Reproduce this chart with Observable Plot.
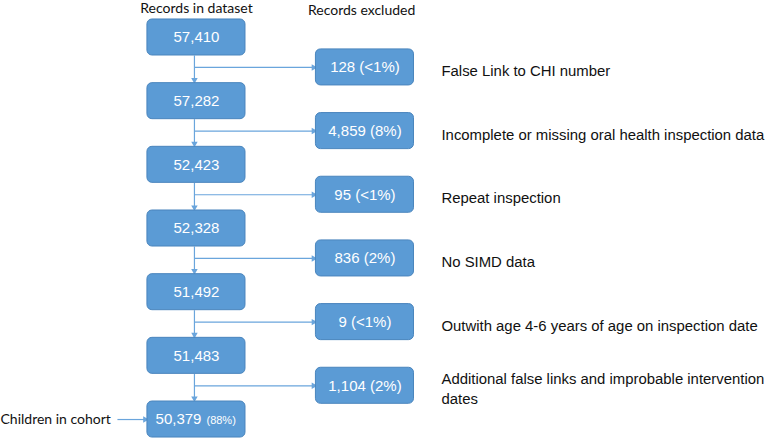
<!DOCTYPE html>
<html>
<head>
<meta charset="utf-8">
<script src="https://cdn.jsdelivr.net/npm/d3@7"></script>
<script src="https://cdn.jsdelivr.net/npm/@observablehq/plot@0.6"></script>
<style>
  html, body { margin: 0; padding: 0; background: #fff; }
  #chart svg { display: block; }
</style>
</head>
<body>
<div id="chart"></div>
<script>
// ---- data ----
const remaining = [57410, 57282, 52423, 52328, 51492, 51483, 50379];
const excluded = [128, 4859, 95, 836, 9, 1104];
const excludedPct = ["<1%", "8%", "<1%", "2%", "<1%", "2%"];
const reasons = [
  "False Link to CHI number",
  "Incomplete or missing oral health inspection data",
  "Repeat inspection",
  "No SIMD data",
  "Outwith age 4-6 years of age on inspection date",
  "Additional false links and improbable intervention\ndates"
];
const finalPct = "(88%)";
const headerMain = "Records in dataset";
const headerExcluded = "Records excluded";
const cohortLabel = "Children in cohort";

// ---- layout (column / step units) ----
const colMain = 0, colExcl = 1, colReason = 1.454;
const hw = 0.291, hh = 0.283, exclOffset = 0.47;
const fill = "#5b9bd5", edge = "#4a85bd", line = "#6aa5dc";
const fmt = d3.format(",");

const mainData = remaining.map((v, i) => ({i, label: fmt(v)}));
const exclData = excluded.map((v, i) => ({i, y: i + exclOffset, label: `${fmt(v)} (${excludedPct[i]})`, reason: reasons[i]}));
const vLinks = remaining.slice(1).map((v, k) => ({y1: k + hh, y2: k + 1 - hh}));

const boxFont = "Liberation Sans, Arial, sans-serif";
const headFont = "Lato, sans-serif";

const chart = Plot.plot({
  width: 766,
  height: 438,
  margin: 0,
  x: {domain: [-1.163, 3.383], range: [0, 766], axis: null},
  y: {domain: [-0.581, 6.298], range: [0, 438], axis: null},
  style: {background: "#fff", fontFamily: boxFont},
  marks: [
    // vertical connectors
    Plot.link(vLinks, {x1: colMain - 0.012, x2: colMain - 0.012, y1: "y1", y2: d => d.y2 - 0.06, stroke: line, strokeWidth: 1.2}),
    Plot.dot(vLinks, {x: colMain - 0.012, y: d => d.y2 - 0.05, symbol: "triangle", rotate: 180, r: 2.4, fill: line, stroke: "none"}),
    // horizontal arrows to excluded boxes
    Plot.link(exclData, {x1: colMain - 0.012, x2: colExcl - hw - 0.02, y1: "y", y2: "y", stroke: line, strokeWidth: 1.2}),
    Plot.dot(exclData, {x: colExcl - hw - 0.014, y: "y", symbol: "triangle", rotate: 90, r: 2.4, fill: line, stroke: "none"}),
    // cohort arrow
    Plot.link([remaining.length - 1], {x1: -0.469, x2: colMain - hw - 0.02, y1: d => d, y2: d => d, stroke: line, strokeWidth: 1.2}),
    Plot.dot([remaining.length - 1], {x: colMain - hw - 0.014, y: d => d, symbol: "triangle", rotate: 90, r: 2.4, fill: line, stroke: "none"}),
    // main boxes
    Plot.rect(mainData, {x1: colMain - hw, x2: colMain + hw, y1: d => d.i - hh, y2: d => d.i + hh, fill, stroke: edge, strokeWidth: 1, rx: 5}),
    Plot.text(mainData.slice(0, -1), {x: colMain, y: "i", text: "label", fill: "#fff", fontSize: 15, fontFamily: boxFont}),
    Plot.text(mainData.slice(-1), {x: colMain, y: "i", text: "label", fill: "#fff", fontSize: 15, fontFamily: boxFont, textAnchor: "end", dx: 5}),
    Plot.text(mainData.slice(-1), {x: colMain, y: "i", text: () => finalPct, fill: "#fff", fontSize: 11, fontFamily: boxFont, textAnchor: "start", dx: 10, dy: 1}),
    // excluded boxes
    Plot.rect(exclData, {x1: colExcl - hw, x2: colExcl + hw, y1: d => d.y - hh, y2: d => d.y + hh, fill, stroke: edge, strokeWidth: 1, rx: 5}),
    Plot.text(exclData, {x: colExcl, y: "y", text: "label", fill: "#fff", fontSize: 15, fontFamily: boxFont}),
    // reasons
    Plot.text(exclData, {x: colReason, y: "y", text: "reason", textAnchor: "start", fill: "#111", fontSize: 14.9, lineHeight: 1.36, dy: 2, fontFamily: boxFont}),
    // headers
    Plot.text([headerMain], {x: colMain, y: -0.45, text: d => d, fill: "#111", fontSize: 14, fontFamily: headFont}),
    Plot.text([headerExcluded], {x: colExcl - 0.02, y: -0.43, text: d => d, fill: "#111", fontSize: 14, fontFamily: headFont}),
    Plot.text([cohortLabel], {x: -1.163, y: remaining.length - 1, text: d => d, textAnchor: "start", fill: "#111", fontSize: 14, fontFamily: headFont})
  ]
});
document.getElementById("chart").appendChild(chart);
</script>
</body>
</html>
